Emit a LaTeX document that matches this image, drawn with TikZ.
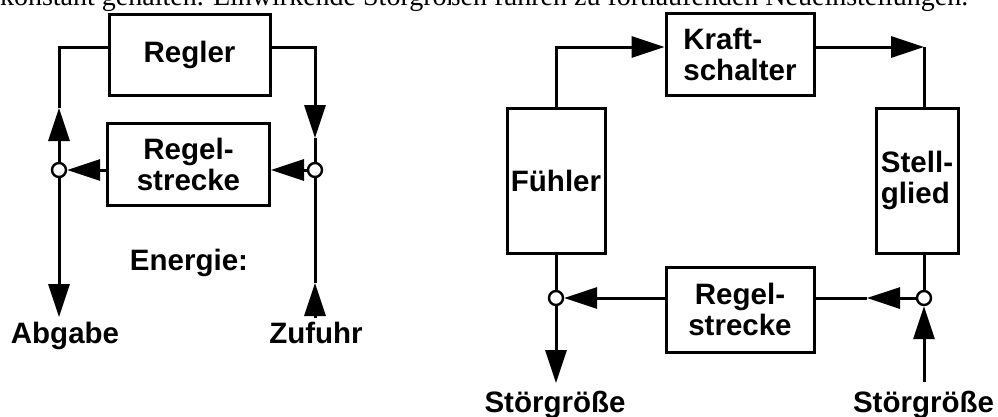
\documentclass[tikz,border=0pt]{standalone}
\usepackage{fontspec}
\setmainfont{Liberation Serif}
\setsansfont{Liberation Sans}
\usetikzlibrary{arrows.meta}
\begin{document}
\begin{tikzpicture}[x=1pt,y=-1pt,
  line width=3pt,
  box/.style={draw, rectangle, inner sep=0pt, align=center, font=\sffamily\bfseries\fontsize{29.5}{31}\selectfont},
  lbl/.style={inner sep=0pt, font=\sffamily\bfseries\fontsize{29.5}{31}\selectfont},
  junc/.style={draw, circle, fill=white, minimum size=14pt, inner sep=0pt, line width=2.4pt},
  arr/.style={-{Triangle[length=33pt,width=21pt]}},
]
\useasboundingbox (0,0) rectangle (998,416);
\clip (0,0) rectangle (998,416);

\node[anchor=base west, inner sep=0pt, font=\fontsize{28}{30}\selectfont] (toptext) at (-1.5,5.5) {konstant gehalten. Einwirkende Störgrößen führen zu fortlaufenden Neueinstellungen.};

% left diagram
\node[box, minimum width=161pt, minimum height=81pt] (regler) at (189.5,54.5) {Regler};
\node[box, minimum width=162pt, minimum height=82pt] (rs1) at (188.5,164) {Regel-\\strecke};
\node[junc] (c1) at (59,170) {};
\node[junc] (c2) at (315,170) {};
\node[lbl, anchor=base] (abg) at (65,343) {Abgabe};
\node[lbl, anchor=base] (zuf) at (316,343) {Zufuhr};
\node[lbl, anchor=base] (energie) at (189,270) {Energie:};

\coordinate (tA) at (59,108);
\coordinate (tB) at (315,138);
\coordinate (tC) at (59,317);
\coordinate (tD) at (315,283);
\coordinate (bD) at (315,318);

\draw[arr] (c1.north) -- (tA);
\draw (tA) |- ([yshift=7.5pt]regler.west);
\draw[arr] ([yshift=7.5pt]regler.east) -| (tB);
\draw (tB) -- (c2.north);
\draw[arr] (c2.west) -- (c2.west -| rs1.east);
\draw[arr] (c1.east -| rs1.west) -- (c1.east);
\draw[arr] (c1.south) -- (tC);
\draw[arr] (bD) -- (tD);
\draw (tD) -- (c2.south);

% right diagram
\node[box, align=left, minimum width=148pt, minimum height=82pt] (ks) at (740,54) {Kraft-\\schalter};
\node[box, minimum width=98pt, minimum height=145pt] (fuehler) at (556,180.5) {Fühler};
\node[box, align=left, minimum width=82pt, minimum height=145pt] (stell) at (917,180.5) {Stell-\\glied};
\node[box, minimum width=148pt, minimum height=85pt] (rs2) at (740,309.5) {Regel-\\strecke};
\node[junc] (c3) at (556,298) {};
\node[junc] (c4) at (924,298) {};
\node[lbl, anchor=base] (st1) at (555,412) {Störgröße};
\node[lbl, anchor=base] (st2) at (923.5,412) {Störgröße};

\coordinate (tE) at (924,47);
\coordinate (tF) at (867,298);
\coordinate (tG) at (556,383);
\coordinate (bH) at (924,382);

\draw[arr] (fuehler.north) |- ([yshift=7pt]ks.west);
\draw[arr] ([yshift=7pt]ks.east) -- (tE);
\draw (tE) -- (tE |- stell.north);
\draw (fuehler.south) -- (c3.north);
\draw (c4.north |- stell.south) -- (c4.north);
\draw[arr] (c3.east -| rs2.west) -- (c3.east);
\draw[arr] (c4.west) -- (tF);
\draw (tF) -- (tF -| rs2.east);
\draw[arr] (c3.south) -- (tG);
\draw[arr] (bH) -- (c4.south);
\end{tikzpicture}
\end{document}
